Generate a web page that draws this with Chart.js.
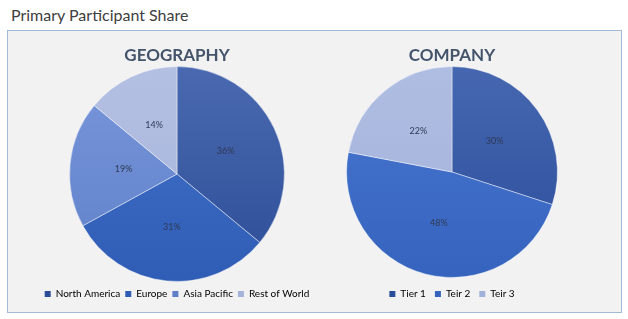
<!DOCTYPE html>
<html>
<head>
<meta charset="utf-8">
<script src="https://cdn.jsdelivr.net/npm/chart.js@4.4.1/dist/chart.umd.min.js"></script>
<style>
  body { margin: 0; background: #fff; font-family: Lato, "Noto Sans", sans-serif; }
  #page { position: relative; width: 628px; height: 319px; }
  #heading { position: absolute; left: 11px; top: 5px; font-size: 16px; color: #404040; }
  #frame { position: absolute; left: 7px; top: 30px; width: 613px; height: 281px; background: #f2f2f2; border: 1.5px solid #a3bbd9; }
  .box { position: absolute; top: 31px; height: 280px; }
</style>
</head>
<body>
<div id="page">
  <div id="heading">Primary Participant Share</div>
  <div id="frame"></div>
  <div class="box" style="left:27px;width:300px"><canvas id="geoChart"></canvas></div>
  <div class="box" style="left:307px;width:290px"><canvas id="companyChart"></canvas></div>
</div>
<script>
// Data
const geoLabels = ['North America', 'Europe', 'Asia Pacific', 'Rest of World'];
const geoShare = [36, 31, 19, 14];
const companyLabels = ['Tier 1', 'Teir 2', 'Teir 3'];
const companyShare = [30, 48, 22];

const geoColors = [['#4a69b0', '#2c4d97'], ['#4474cc', '#2f5cb4'], ['#7896da', '#5f80c9'], ['#b4c0e2', '#a5b3dc']];
const companyColors = [['#4667b0', '#2b4e9c'], ['#4877d2', '#3563bd'], ['#b0bde2', '#a2b1db']];

// vertical gradient like the Excel shading
function shaded(pairs) {
    return function(context) {
        const area = context.chart.chartArea;
        const pair = pairs[context.dataIndex];
        if (!area) return pair[0];
        const g = context.chart.ctx.createLinearGradient(0, area.top, 0, area.bottom);
        g.addColorStop(0, pair[0]);
        g.addColorStop(1, pair[1]);
        return g;
    };
}

// percent labels in the middle of each slice
const sliceLabels = {
    id: 'sliceLabels',
    afterDatasetsDraw(chart) {
        const ctx = chart.ctx;
        const meta = chart.getDatasetMeta(0);
        const data = chart.data.datasets[0].data;
        ctx.save();
        ctx.font = '9px Lato, "Noto Sans", sans-serif';
        ctx.fillStyle = '#2e3a55';
        ctx.textAlign = 'center';
        ctx.textBaseline = 'middle';
        meta.data.forEach(function(arc, i) {
            const pos = arc.tooltipPosition();
            ctx.fillText(data[i] + '%', pos.x, pos.y);
        });
        ctx.restore();
    }
};

function makePie(id, title, labels, values, colors, gap) {
    return new Chart(document.getElementById(id), {
        type: 'pie',
        data: {
            labels: labels,
            datasets: [{
                data: values,
                backgroundColor: shaded(colors),
                borderColor: 'rgba(255,255,255,0.55)',
                borderWidth: 0.8
            }]
        },
        options: {
            responsive: true,
            maintainAspectRatio: false,
            animation: false,
            radius: '98%',
            layout: { padding: { bottom: 2 } },
            plugins: {
                title: {
                    display: true,
                    text: title,
                    color: '#44546a',
                    font: { size: 17, weight: 'bold', family: 'Lato, "Noto Sans", sans-serif', lineHeight: 1 },
                    padding: { top: 16, bottom: 0 }
                },
                legend: {
                    position: 'bottom',
                    labels: {
                        boxWidth: 6,
                        boxHeight: 6,
                        padding: gap,
                        color: '#595959',
                        font: { size: 10, family: 'Lato, "Noto Sans", sans-serif' },
                        generateLabels(chart) {
                            return chart.data.labels.map(function(l, i) {
                                return { text: l, fillStyle: colors[i][1], strokeStyle: colors[i][1], lineWidth: 0, index: i };
                            });
                        }
                    }
                },
                tooltip: { enabled: false }
            }
        },
        plugins: [sliceLabels]
    });
}

makePie('geoChart', 'GEOGRAPHY', geoLabels, geoShare, geoColors, 5);
makePie('companyChart', 'COMPANY', companyLabels, companyShare, companyColors, 9);
</script>
</body>
</html>
